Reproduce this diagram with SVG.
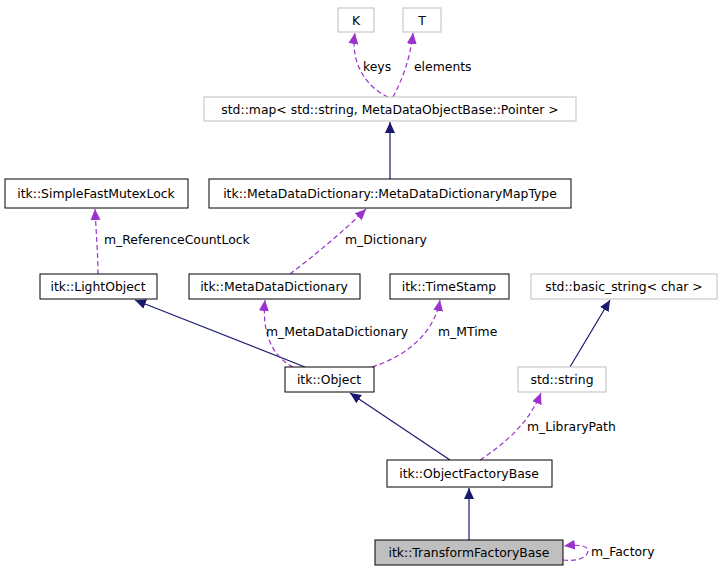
<svg xmlns="http://www.w3.org/2000/svg" width="723" height="573" viewBox="0 0 723 573">
<style>
text{font-family:"DejaVu Sans",sans-serif;font-size:12.4px;text-anchor:middle}
.l{text-anchor:start}
.b{fill:#fff;stroke:#000;stroke-width:1}
.g{fill:#fff;stroke:#bfbfbf;stroke-width:1}
.n{fill:none;stroke:#191970;stroke-width:1.2}
.d{fill:none;stroke:#9a32cd;stroke-width:1.2;stroke-dasharray:5,3}
</style>
<defs>
<marker id="an" markerWidth="12" markerHeight="12" refX="11" refY="5" orient="auto" markerUnits="userSpaceOnUse"><path d="M0,0L11,5L0,10z" fill="#191970"/></marker>
<marker id="ap" markerWidth="12" markerHeight="12" refX="11" refY="5" orient="auto" markerUnits="userSpaceOnUse"><path d="M0,0L11,5L0,10z" fill="#9a32cd"/></marker>
</defs>
<rect width="723" height="573" fill="#fff"/>
<g id="edges">
<path class="d" marker-end="url(#ap)" d="M388,97C368,88 350,65 355,33"/>
<path class="d" marker-end="url(#ap)" d="M393,97C402,80 410,60 413,33"/>
<path class="n" marker-end="url(#an)" d="M390,179L390,122"/>
<path class="d" marker-end="url(#ap)" d="M290,274C315,255 345,230 366,209"/>
<path class="d" marker-end="url(#ap)" d="M98,274C98,255 96,230 95,209"/>
<path class="n" marker-end="url(#an)" d="M305,367L135,300"/>
<path class="d" marker-end="url(#ap)" d="M293,367C270,355 262,330 265,300"/>
<path class="d" marker-end="url(#ap)" d="M372,367C410,355 435,330 440,300"/>
<path class="n" marker-end="url(#an)" d="M570,367L610,300"/>
<path class="n" marker-end="url(#an)" d="M450,460L350,393"/>
<path class="d" marker-end="url(#ap)" d="M480,460C510,440 530,420 541,393"/>
<path class="n" marker-end="url(#an)" d="M469,540L469,488"/>
<path class="d" marker-end="url(#ap)" d="M563,560C580,562 588,556 588,551C588,546 580,544 564,546"/>
</g>
<g id="K"><rect class="g" x="338" y="8" width="36" height="24"/><text x="356" y="25">K</text></g>
<g id="T"><rect class="g" x="403" y="8" width="38" height="24"/><text x="422" y="25">T</text></g>
<g id="map"><rect class="g" x="204" y="97" width="372" height="24"/><text x="390" y="114">std::map&lt; std::string, MetaDataObjectBase::Pointer &gt;</text></g>
<g id="maptype"><rect class="b" x="209" y="179" width="362" height="29"/><text x="390" y="198">itk::MetaDataDictionary::MetaDataDictionaryMapType</text></g>
<g id="mutex"><rect class="b" x="5" y="179" width="183" height="29"/><text x="96" y="198">itk::SimpleFastMutexLock</text></g>
<g id="light"><rect class="b" x="40" y="274" width="117" height="25"/><text x="98" y="291">itk::LightObject</text></g>
<g id="mdd"><rect class="b" x="189" y="274" width="171" height="25"/><text x="274" y="291">itk::MetaDataDictionary</text></g>
<g id="ts"><rect class="b" x="390" y="274" width="119" height="25"/><text x="449" y="291">itk::TimeStamp</text></g>
<g id="bs"><rect class="g" x="531" y="274" width="186" height="25"/><text x="624" y="291">std::basic_string&lt; char &gt;</text></g>
<g id="obj"><rect class="b" x="285" y="367" width="89" height="25"/><text x="329" y="384">itk::Object</text></g>
<g id="str"><rect class="g" x="518" y="367" width="88" height="25"/><text x="562" y="384">std::string</text></g>
<g id="ofb"><rect class="b" x="387" y="460" width="165" height="27"/><text x="469" y="478">itk::ObjectFactoryBase</text></g>
<g id="tfb"><rect x="375" y="540" width="188" height="25" fill="#bfbfbf" stroke="#000"/><text x="469" y="557">itk::TransformFactoryBase</text></g>
<g id="labels">
<text class="l" x="363" y="71">keys</text>
<text class="l" x="414" y="71">elements</text>
<text class="l" x="345" y="244">m_Dictionary</text>
<text class="l" x="104" y="244">m_ReferenceCountLock</text>
<text class="l" x="266" y="336">m_MetaDataDictionary</text>
<text class="l" x="438" y="336">m_MTime</text>
<text class="l" x="527" y="431">m_LibraryPath</text>
<text class="l" x="591" y="556">m_Factory</text>
</g>
</svg>
